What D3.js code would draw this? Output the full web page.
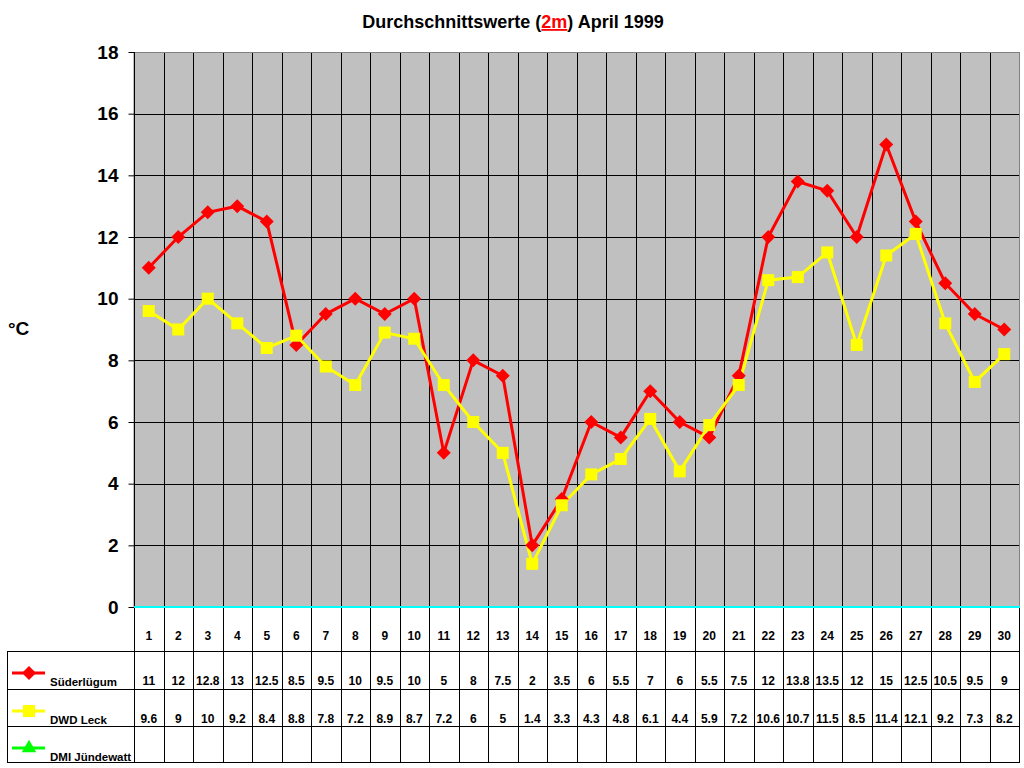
<!DOCTYPE html>
<html>
<head>
<meta charset="utf-8">
<script src="https://cdn.jsdelivr.net/npm/d3@7"></script>
<style>
  body { margin: 0; background: #fff; }
  text { font-family: Arial, "Liberation Sans", sans-serif; font-weight: bold; }
</style>
</head>
<body>
<div id="chart"></div>
<script>
const days = d3.range(1, 31);
const suederluegum = [11, 12, 12.8, 13, 12.5, 8.5, 9.5, 10, 9.5, 10, 5, 8, 7.5, 2, 3.5, 6, 5.5, 7, 6, 5.5, 7.5, 12, 13.8, 13.5, 12, 15, 12.5, 10.5, 9.5, 9];
const dwdLeck = [9.6, 9, 10, 9.2, 8.4, 8.8, 7.8, 7.2, 8.9, 8.7, 7.2, 6, 5, 1.4, 3.3, 4.3, 4.8, 6.1, 4.4, 5.9, 7.2, 10.6, 10.7, 11.5, 8.5, 11.4, 12.1, 9.2, 7.3, 8.2];
const dmiJuendewatt = [];
const yTicks = [0, 2, 4, 6, 8, 10, 12, 14, 16, 18];

// diamond = square turned 45deg
const series = [
  { name: 'Süderlügum', values: suederluegum, color: '#ff0000', marker: d3.symbolSquare, size: 98, rot: 45 },
  { name: 'DWD Leck', values: dwdLeck, color: '#ffff00', marker: d3.symbolSquare, size: 144, rot: 0 },
  { name: 'DMI Jündewatt', values: dmiJuendewatt, color: '#00ff00', marker: d3.symbolTriangle, size: 90, rot: 0 }
];

const w = 1024, h = 768;
const pLeft = 134, pRight = 1019, pTop = 52, pBottom = 607;
const rowY = [607, 651, 689, 726, 762];
const tableLeft = 7;

const svg = d3.select('#chart').append('svg')
  .attr('width', w).attr('height', h);

const x = d3.scaleBand().domain(days).range([pLeft, pRight]);
const y = d3.scaleLinear().domain([0, 18]).range([pBottom, pTop]);
const cx = j => x(days[j]) + x.bandwidth() / 2;

// title
const title = svg.append('text')
  .attr('x', 513).attr('y', 28)
  .attr('text-anchor', 'middle')
  .style('font-size', '18px');
title.append('tspan').text('Durchschnittswerte (');
title.append('tspan').attr('fill', '#ff0000').attr('text-decoration', 'underline').text('2m');
title.append('tspan').text(') April 1999');

// plot area
svg.append('rect')
  .attr('x', pLeft).attr('y', pTop + 0.5)
  .attr('width', pRight - pLeft + 0.5).attr('height', pBottom - pTop)
  .attr('fill', '#c0c0c0').attr('stroke', '#808080');

// horizontal grid
svg.append('g').selectAll('line')
  .data(yTicks.filter(d => d > 0 && d < 18))
  .enter().append('line')
  .attr('x1', pLeft).attr('x2', pRight)
  .attr('y1', d => Math.round(y(d)) + 0.5).attr('y2', d => Math.round(y(d)) + 0.5)
  .attr('stroke', '#000');

// vertical lines through plot and table
svg.append('g').selectAll('line')
  .data(days.slice(1))
  .enter().append('line')
  .attr('x1', d => Math.round(x(d)) + 0.5).attr('x2', d => Math.round(x(d)) + 0.5)
  .attr('y1', pTop + 1).attr('y2', rowY[4])
  .attr('stroke', '#000');

// y axis
const yAxis = d3.axisLeft(y).tickValues(yTicks).tickSize(6).tickPadding(10);
const ga = svg.append('g')
  .attr('transform', `translate(${pLeft + 0.5},0)`)
  .call(yAxis);
ga.select('.domain').attr('stroke', '#000').attr('d', `M0,${pTop}V${pBottom}`);
ga.selectAll('.tick line').attr('stroke', '#000');
ga.selectAll('.tick text')
  .style('font-size', '19px')
  .style('font-family', 'Arial, "Liberation Sans", sans-serif')
  .style('font-weight', 'bold')
  .attr('fill', '#000');

svg.append('text')
  .attr('x', 8).attr('y', 335)
  .style('font-size', '19px')
  .text('°C');

// table lines
const tbl = svg.append('g');
tbl.append('line').attr('x1', pLeft + 0.5).attr('x2', pLeft + 0.5)
  .attr('y1', pBottom).attr('y2', rowY[4]).attr('stroke', '#000');
tbl.append('line').attr('x1', pRight + 0.5).attr('x2', pRight + 0.5)
  .attr('y1', pBottom).attr('y2', rowY[4]).attr('stroke', '#000');
tbl.append('line').attr('x1', tableLeft + 0.5).attr('x2', tableLeft + 0.5)
  .attr('y1', rowY[1]).attr('y2', rowY[4]).attr('stroke', '#000');
tbl.selectAll('.hrow')
  .data(rowY.slice(1))
  .enter().append('line')
  .attr('x1', tableLeft).attr('x2', pRight + 1)
  .attr('y1', d => d + 0.5).attr('y2', d => d + 0.5)
  .attr('stroke', '#000');

// zero line
svg.append('line')
  .attr('x1', pLeft).attr('x2', pRight + 1)
  .attr('y1', y(0)).attr('y2', y(0))
  .attr('stroke', '#00ffff').attr('stroke-width', 2);

// day labels
svg.append('g').selectAll('text')
  .data(days)
  .enter().append('text')
  .attr('x', (d, j) => cx(j))
  .attr('y', 640)
  .attr('text-anchor', 'middle')
  .style('font-size', '12px')
  .text(d => d);

// value rows and legend keys
series.forEach((s, i) => {
  svg.append('g').selectAll('text')
    .data(s.values)
    .enter().append('text')
    .attr('x', (d, j) => cx(j))
    .attr('y', rowY[i + 1] + 34)
    .attr('text-anchor', 'middle')
    .style('font-size', '12px')
    .text(d => d);

  const ly = rowY[i + 1] + 22;
  svg.append('line')
    .attr('x1', 12).attr('x2', 45)
    .attr('y1', ly).attr('y2', ly)
    .attr('stroke', s.color).attr('stroke-width', 3);
  svg.append('path')
    .attr('d', d3.symbol().type(s.marker).size(s.size)())
    .attr('transform', `translate(29,${ly}) rotate(${s.rot})`)
    .attr('fill', s.color);
  svg.append('text')
    .attr('x', 50).attr('y', ly + 13)
    .style('font-size', '11.5px')
    .text(s.name);
});

// series lines, then markers
const line = d3.line()
  .x((d, j) => cx(j))
  .y(d => y(d));

series.forEach(s => {
  if (!s.values.length) return;
  svg.append('path')
    .datum(s.values)
    .attr('d', line)
    .attr('fill', 'none')
    .attr('stroke', s.color)
    .attr('stroke-width', 3);
});

series.forEach(s => {
  svg.append('g').selectAll('path')
    .data(s.values)
    .enter().append('path')
    .attr('d', d3.symbol().type(s.marker).size(s.size)())
    .attr('transform', (d, j) => `translate(${cx(j)},${y(d)}) rotate(${s.rot})`)
    .attr('fill', s.color);
});
</script>
</body>
</html>
